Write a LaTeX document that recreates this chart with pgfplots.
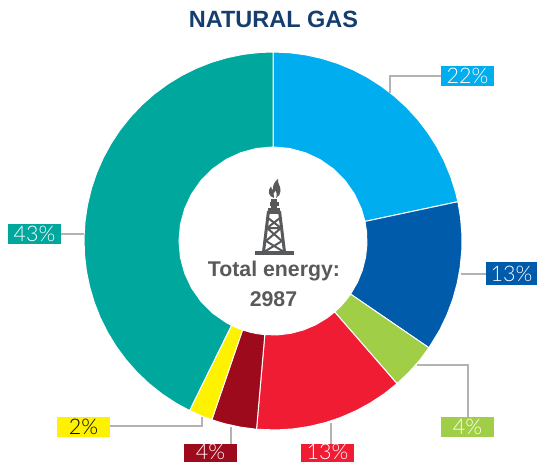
\documentclass[border=0pt]{standalone}
\usepackage{pgfplots}
\pgfplotsset{compat=1.18}
\usepgfplotslibrary{polar}
\usepackage{fontspec}
\setmainfont{Liberation Sans}
\newfontfamily\lightfont{Lato Light}
\definecolor{cA}{HTML}{00AEEF}
\definecolor{cB}{HTML}{005BAA}
\definecolor{cC}{HTML}{A0CE46}
\definecolor{cD}{HTML}{EF1C33}
\definecolor{cE}{HTML}{9D0A1C}
\definecolor{cF}{HTML}{FFF200}
\definecolor{cG}{HTML}{00A79D}
\definecolor{ttl}{HTML}{153E6E}
\definecolor{gtx}{HTML}{58595B}
\definecolor{lead}{HTML}{B3B3B3}
\begin{document}
\begin{tikzpicture}[x=1pt,y=1pt]
\clip (0,0) rectangle (537,462);
\begin{polaraxis}[at={(84pt,32pt)},anchor=south west,scale only axis,width=378pt,height=378pt,
  hide axis,clip=false,xmin=0,xmax=360,ymin=0,ymax=189]
\tikzset{sec/.style={line width=1pt,draw=white,mark=none,fill=#1}}
% 22%
\addplot[sec=cA] coordinates {(90,189)(85,189)(80,189)(75,189)(70,189)(65,189)(60,189)(55,189)(50,189)(45,189)(40,189)(35,189)(30,189)(25,189)(20,189)(15,189)(12,189)(12,94)(20,94)(30,94)(40,94)(50,94)(60,94)(70,94)(80,94)(90,94)} --cycle;
% 13%
\addplot[sec=cB] coordinates {(12,189)(7,189)(2,189)(-3,189)(-8,189)(-13,189)(-18,189)(-23,189)(-28,189)(-34.4,189)(-34.4,94)(-26,94)(-18,94)(-10,94)(-2,94)(6,94)(12,94)} --cycle;
% 4%
\addplot[sec=cC] coordinates {(-34.4,189)(-39,189)(-44,189)(-49,189)(-49,94)(-44,94)(-39,94)(-34.4,94)} --cycle;
% 13%
\addplot[sec=cD] coordinates {(-49,189)(-54,189)(-59,189)(-64,189)(-69,189)(-74,189)(-79,189)(-84,189)(-89,189)(-95,189)(-95,94)(-87,94)(-79,94)(-71,94)(-63,94)(-55,94)(-49,94)} --cycle;
% 4%
\addplot[sec=cE] coordinates {(-95,189)(-100,189)(-105,189)(-108.9,189)(-108.9,94)(-104,94)(-100,94)(-95,94)} --cycle;
% 2%
\addplot[sec=cF] coordinates {(-108.9,189)(-112,189)(-116.2,189)(-116.2,94)(-112,94)(-108.9,94)} --cycle;
% 43%
\addplot[sec=cG] coordinates {(-116.2,189)(-121,189)(-126,189)(-131,189)(-136,189)(-141,189)(-146,189)(-151,189)(-156,189)(-161,189)(-166,189)(-171,189)(-176,189)(-181,189)(-186,189)(-191,189)(-196,189)(-201,189)(-206,189)(-211,189)(-216,189)(-221,189)(-226,189)(-231,189)(-236,189)(-241,189)(-246,189)(-251,189)(-256,189)(-261,189)(-266,189)(-270,189)(-270,94)(-260,94)(-250,94)(-240,94)(-230,94)(-220,94)(-210,94)(-200,94)(-190,94)(-180,94)(-170,94)(-160,94)(-150,94)(-140,94)(-130,94)(-120,94)(-116.2,94)} --cycle;
\end{polaraxis}
\begin{axis}[at={(0pt,0pt)},anchor=south west,scale only axis,width=537pt,height=462pt,
  hide axis,clip=false,xmin=0,xmax=537,ymin=0,ymax=462,y dir=reverse]
\tikzset{ld/.style={line width=1.2pt,draw=lead,mark=none}}
\addplot[ld] coordinates {(390,93)(390,76)(441,76)};
\addplot[ld] coordinates {(461,274)(486,274)};
\addplot[ld] coordinates {(417,365)(468,365)(468,417)};
\addplot[ld] coordinates {(331,423)(331,444)};
\addplot[ld] coordinates {(231,427)(231,444)};
\addplot[ld] coordinates {(202,417)(202,426)(110,426)};
\addplot[ld] coordinates {(61,234)(84,234)};
\tikzset{lab/.style={inner sep=0pt,font=\lightfont\fontsize{21.5}{21.5}\selectfont,text=white,anchor=center},
  box/.style={inner sep=0pt,minimum width=53pt,minimum height=20pt,anchor=center}}
\node[box,fill=cA] at (axis cs:467.5,76) {};
\node[lab] at (axis cs:467.5,76) {22\%};
\node[box,fill=cB,minimum height=23pt,minimum width=51pt] at (axis cs:511.5,273.5) {};
\node[lab] at (axis cs:511.5,273.5) {13\%};
\node[box,fill=cC] at (axis cs:467.5,427) {};
\node[lab] at (axis cs:467.5,427) {4\%};
\node[box,fill=cD] at (axis cs:327.5,454) {};
\node[lab] at (axis cs:327.5,451.5) {13\%};
\node[box,fill=cE] at (axis cs:210.5,454) {};
\node[lab] at (axis cs:210.5,451.5) {4\%};
\node[box,fill=cF] at (axis cs:83.5,427) {};
\node[lab,text=black] at (axis cs:83.5,427) {2\%};
\node[box,fill=cG] at (axis cs:34.5,234) {};
\node[lab] at (axis cs:34.5,234) {43\%};
\node[font=\bfseries\fontsize{23.5}{23.5}\selectfont,text=ttl,inner sep=0pt] at (axis cs:273.5,19) {NATURAL GAS};
\node[font=\bfseries\fontsize{21.3}{21.3}\selectfont,text=gtx,inner sep=0pt] at (axis cs:274,271) {Total energy:};
\node[font=\bfseries\fontsize{21.3}{21.3}\selectfont,text=gtx,inner sep=0pt] at (axis cs:273.5,299) {2987};
% icon
\fill[gtx] (axis cs:254.7,251) rectangle (axis cs:293.5,255);
\draw[gtx,line width=3pt] (axis cs:263.5,252) -- (axis cs:268.5,211) (axis cs:284.5,252) -- (axis cs:279.5,211);
\fill[gtx] (axis cs:267.7,208) rectangle (axis cs:280.3,214);
\fill[gtx] (axis cs:270.7,199) rectangle (axis cs:277.3,209);
\fill[gtx] (axis cs:269.5,202) rectangle (axis cs:278.5,206);
\draw[gtx,line width=2pt] (axis cs:268,218) -- (axis cs:281,228) -- (axis cs:266,241) -- (axis cs:284,252)
  (axis cs:280,218) -- (axis cs:267,228) -- (axis cs:282,241) -- (axis cs:264,252)
  (axis cs:267,228) -- (axis cs:281,228);
\fill[gtx] (axis cs:274,198) .. controls (axis cs:268,196.5) and (axis cs:267.5,190) .. (axis cs:271,186.5) .. controls (axis cs:271.5,188.5) and (axis cs:272,189.5) .. (axis cs:273,190) .. controls (axis cs:272.5,186) and (axis cs:274,182) .. (axis cs:278,179) .. controls (axis cs:277,183) and (axis cs:281,186) .. (axis cs:280.5,191) .. controls (axis cs:280.5,194) and (axis cs:279,196.5) .. (axis cs:276,198) .. controls (axis cs:277.5,194) and (axis cs:276.5,192) .. (axis cs:275.5,190.5) .. controls (axis cs:273.5,192) and (axis cs:273,195) .. (axis cs:274,198) -- cycle;
\end{axis}
\end{tikzpicture}
\end{document}
